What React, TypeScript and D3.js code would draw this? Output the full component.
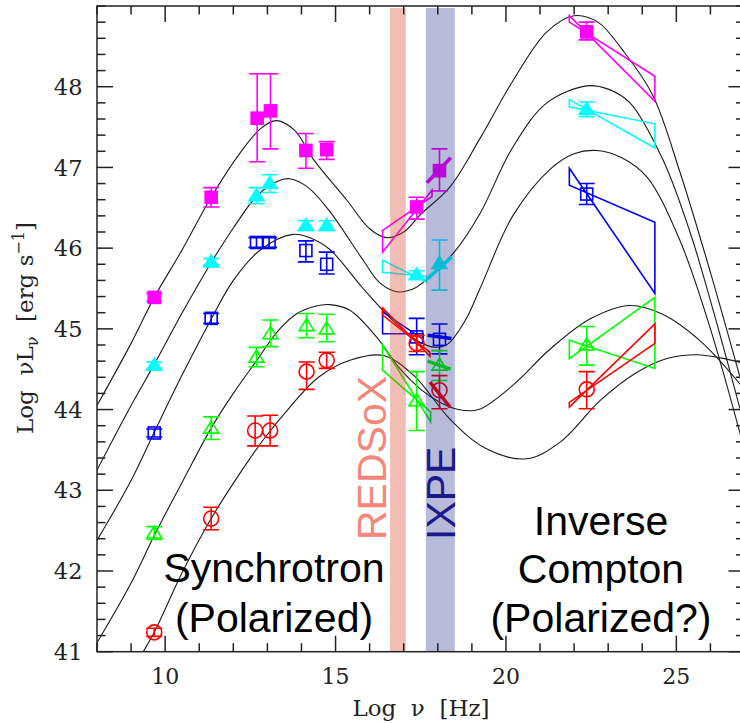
import * as d3 from "d3";
import { useEffect, useRef } from "react";

const xDomain = [8, 27];
const yDomain = [41, 49];
const xMajorTicks = [10, 15, 20, 25];
const yMajorTicks = [41, 42, 43, 44, 45, 46, 47, 48];

const seriesNames = ["magenta", "cyan", "blue", "green", "red"];
const seriesColors = ["#ff00ff", "#00ffff", "#0000ff", "#00ff00", "#ff0000"];
const seriesSymbols = ["squareFilled", "triangleFilled", "square", "triangle", "circle"];

// [log nu, log nuLnu, lower error, upper error]
const magentaPoints = [
  [9.68, 45.39, 0.05, 0.05],
  [11.35, 46.63, 0.12, 0.12],
  [12.7, 47.61, 0.54, 0.55],
  [13.09, 47.7, 0.47, 0.46],
  [14.13, 47.21, 0.22, 0.21],
  [14.74, 47.22, 0.12, 0.1],
  [17.38, 46.51, 0.15, 0.12],
  [18.05, 46.96, 0.25, 0.27],
  [22.37, 48.68, 0.1, 0.12],
];
const cyanPoints = [
  [9.68, 44.55, 0.04, 0.04],
  [11.35, 45.83, 0.04, 0.04],
  [12.68, 46.65, 0.1, 0.1],
  [13.07, 46.8, 0.11, 0.11],
  [14.13, 46.28, 0.06, 0.06],
  [14.74, 46.28, 0.06, 0.06],
  [17.38, 45.67, 0.05, 0.05],
  [18.05, 45.81, 0.33, 0.29],
  [22.37, 47.72, 0.09, 0.09],
];
const bluePoints = [
  [9.68, 43.71, 0.05, 0.05],
  [11.35, 45.13, 0.06, 0.06],
  [12.68, 46.07, 0.06, 0.06],
  [13.05, 46.07, 0.06, 0.06],
  [14.13, 45.97, 0.14, 0.12],
  [14.74, 45.8, 0.12, 0.15],
  [17.38, 44.9, 0.22, 0.23],
  [18.05, 44.87, 0.18, 0.19],
  [22.37, 46.67, 0.13, 0.13],
];
const greenPoints = [
  [9.68, 42.47, 0.08, 0.08],
  [11.35, 43.77, 0.14, 0.14],
  [12.68, 44.65, 0.12, 0.12],
  [13.09, 44.94, 0.16, 0.17],
  [14.15, 45.04, 0.15, 0.15],
  [14.74, 45.0, 0.16, 0.18],
  [17.38, 44.11, 0.37, 0.36],
  [18.05, 44.55, 0.19, 0.18],
  [22.37, 44.8, 0.25, 0.23],
];
const redPoints = [
  [9.68, 41.24, 0.05, 0.05],
  [11.35, 42.65, 0.14, 0.14],
  [12.64, 43.74, 0.19, 0.18],
  [13.08, 43.74, 0.19, 0.19],
  [14.15, 44.47, 0.22, 0.12],
  [14.74, 44.61, 0.1, 0.1],
  [17.38, 44.82, 0.1, 0.1],
  [18.05, 44.24, 0.23, 0.18],
  [22.37, 44.25, 0.24, 0.22],
];
const seriesPoints = [magentaPoints, cyanPoints, bluePoints, greenPoints, redPoints];

// bow ties: [x1, x2, left top, left bottom, right top, right bottom]
const xrayBowties = [
  [16.38, 17.83, 46.22, 45.95, 46.72, 46.64],
  [16.38, 17.67, 45.85, 45.7, 45.65, 45.58],
  [16.38, 17.57, 45.21, 44.94, 44.94, 44.87],
  [16.38, 17.79, 44.8, 44.49, 43.97, 43.85],
  [16.38, 17.77, 45.26, 45.17, 44.71, 44.66],
];
const gammaBowties = [
  [21.86, 24.37, 48.88, 48.8, 48.13, 47.82],
  [21.86, 24.37, 47.84, 47.75, 47.54, 47.24],
  [21.86, 24.37, 46.99, 46.78, 46.32, 45.44],
  [21.86, 24.37, 44.86, 44.63, 45.39, 44.51],
  [21.86, 24.37, 44.09, 44.03, 45.06, 44.82],
];
// short IXPE-band spectra: [x1, y1, x2, y2]
const ixpeSlopes = [
  [17.68, 46.81, 18.38, 47.12],
  [17.67, 45.61, 18.41, 45.89],
  [17.7, 44.92, 18.4, 44.88],
  [17.7, 44.6, 18.38, 44.5],
  [17.77, 44.34, 18.36, 44.03],
];

// SED model curves
const curveMagenta = [
  [8.0, 44.05], [9.0, 44.82], [9.68, 45.39], [10.5, 45.98], [11.35, 46.63], [12.2, 47.18],
  [12.8, 47.48], [13.25, 47.58], [13.8, 47.46], [14.35, 47.1], [15.34, 46.59], [16.0, 46.24],
  [16.5, 46.13], [17.0, 46.2], [17.5, 46.42], [18.36, 46.76], [19.24, 47.36], [20.2, 48.07],
  [21.2, 48.68], [22.0, 48.88], [22.7, 48.8], [23.43, 48.45], [24.3, 47.9], [25.1, 46.95],
  [26.0, 45.7], [27.0, 44.2],
];
const curveCyan = [
  [8.0, 43.25], [9.0, 44.05], [9.68, 44.56], [10.5, 45.2], [11.35, 45.82], [12.0, 46.25],
  [12.7, 46.65], [13.3, 46.83], [13.66, 46.86], [14.2, 46.75], [14.84, 46.45], [15.81, 45.85],
  [16.3, 45.57], [16.8, 45.46], [17.3, 45.5], [17.77, 45.65], [18.5, 45.96], [19.24, 46.43],
  [20.2, 47.25], [21.2, 47.8], [22.38, 48.01], [23.0, 47.97], [23.64, 47.8], [24.6, 47.1],
  [25.4, 46.2], [26.1, 45.2], [27.0, 43.8],
];
const curveBlue = [
  [8.0, 42.38], [9.0, 43.12], [9.68, 43.72], [10.5, 44.43], [11.35, 45.12], [12.0, 45.6],
  [12.8, 45.98], [13.75, 46.17], [14.3, 46.12], [14.84, 45.98], [15.81, 45.5], [16.69, 45.1],
  [17.3, 44.88], [17.8, 44.78], [18.25, 44.8], [18.8, 45.1], [19.24, 45.5], [20.2, 46.4],
  [21.3, 46.98], [22.0, 47.17], [22.67, 47.21], [23.4, 47.12], [24.14, 46.88], [25.1, 46.1],
  [26.0, 45.0], [27.0, 43.5],
];
const curveGreen = [
  [8.0, 41.11], [9.0, 41.85], [9.68, 42.44], [10.5, 43.1], [11.35, 43.77], [12.0, 44.2],
  [12.69, 44.61], [13.3, 44.97], [13.87, 45.19], [14.4, 45.28], [14.84, 45.3], [15.42, 45.23],
  [16.2, 44.9], [16.9, 44.5], [17.5, 44.25], [18.06, 44.09], [18.6, 44.0], [19.2, 44.0],
  [20.2, 44.3], [21.3, 44.75], [22.5, 45.13], [23.64, 45.29], [24.6, 45.18], [25.7, 44.85],
  [27.0, 44.25],
];
const curveRed = [
  [9.3, 40.96], [9.68, 41.24], [10.5, 41.98], [11.35, 42.65], [12.1, 43.15], [12.87, 43.62],
  [13.7, 44.05], [14.5, 44.4], [15.42, 44.61], [16.4, 44.67], [17.3, 44.42], [18.36, 43.88],
  [19.4, 43.52], [20.6, 43.39], [21.6, 43.6], [22.76, 44.11], [23.8, 44.45], [24.7, 44.63],
  [25.6, 44.68], [26.3, 44.64], [27.0, 44.57],
];
const sedCurves = [curveMagenta, curveCyan, curveBlue, curveGreen, curveRed];

const redsoxBand = [16.6, 17.06];
const ixpeBand = [17.65, 18.5];

const tickFont = "'DejaVu Serif', serif";
const labelFont = "'Liberation Sans', Arial, sans-serif";

export default function App() {
  const svgRef = useRef<SVGSVGElement>(null);

  useEffect(() => {
    if (!svgRef.current) return;
    drawChart(svgRef.current);
  }, []);

  return (
    <svg
      ref={svgRef}
      width={740}
      height={724}
      style={{ position: "absolute", left: 0, top: 0, background: "#ffffff" }}
    />
  );
}

function drawChart(svgElement: SVGSVGElement) {
  const svg = d3.select(svgElement);
  svg.selectAll("*").remove();

  const x = d3.scaleLinear().domain(xDomain).range([97, 744.5]);
  const y = d3.scaleLinear().domain(yDomain).range([651.7, 6]);
  const [left, right] = x.range();
  const [bottom, top] = y.range();

  svg
    .append("clipPath")
    .attr("id", "sed-clip")
    .append("rect")
    .attr("x", left)
    .attr("y", top)
    .attr("width", right - left)
    .attr("height", bottom - top);

  const plot = svg.append("g").attr("clip-path", "url(#sed-clip)");

  // model curves
  const line = d3
    .line<number[]>()
    .x((d) => x(d[0]))
    .y((d) => y(d[1]))
    .curve(d3.curveCatmullRom.alpha(0.5));

  plot
    .selectAll(".sed-curve")
    .data(sedCurves)
    .join("path")
    .attr("class", "sed-curve")
    .attr("d", (d) => line(d))
    .attr("fill", "none")
    .attr("stroke", "#1a1a1a")
    .attr("stroke-width", 1.1);

  // bow ties
  const bowtiePath = (b: number[]) => {
    const [x1, x2, a1, b1, a2, b2] = b;
    return `M${x(x1)},${y(a1)}L${x(x2)},${y(b2)}L${x(x2)},${y(a2)}L${x(x1)},${y(b1)}Z`;
  };

  seriesNames.forEach((name, i) => {
    const color = seriesColors[i];
    const g = plot.append("g").attr("class", `series-${name}`);

    [xrayBowties[i], gammaBowties[i]].forEach((b) => {
      g.append("path")
        .attr("d", bowtiePath(b))
        .attr("fill", "none")
        .attr("stroke", color)
        .attr("stroke-width", 1.6)
        .attr("stroke-linejoin", "miter");
    });

    const s = ixpeSlopes[i];
    g.append("line")
      .attr("x1", x(s[0]))
      .attr("y1", y(s[1]))
      .attr("x2", x(s[2]))
      .attr("y2", y(s[3]))
      .attr("stroke", color)
      .attr("stroke-width", 3.5);

    const pts = g
      .selectAll(".pt")
      .data(seriesPoints[i])
      .join("g")
      .attr("class", "pt")
      .attr("transform", (d) => `translate(${x(d[0])},${y(d[1])})`);

    // error bars
    pts
      .append("path")
      .attr("d", (d) => {
        const y0 = y(d[1] - d[2]) - y(d[1]);
        const y1 = y(d[1] + d[3]) - y(d[1]);
        return `M0,${y0}L0,${y1}M-8,${y0}L8,${y0}M-8,${y1}L8,${y1}`;
      })
      .attr("fill", "none")
      .attr("stroke", color)
      .attr("stroke-width", 1.6);

    const symbol = seriesSymbols[i];
    const filled = symbol.endsWith("Filled");
    let shape;
    if (symbol.startsWith("square")) {
      shape = pts.append("rect").attr("x", -6).attr("y", -6).attr("width", 12).attr("height", 12);
    } else if (symbol.startsWith("triangle")) {
      shape = pts.append("path").attr("d", "M0,-7L7.5,5L-7.5,5Z");
    } else {
      shape = pts.append("circle").attr("r", 7.5);
    }
    shape
      .attr("fill", filled ? color : "none")
      .attr("stroke", color)
      .attr("stroke-width", 1.6);
  });

  // instrument bands drawn over the data
  plot
    .append("rect")
    .attr("x", x(redsoxBand[0]))
    .attr("y", top + 2)
    .attr("width", x(redsoxBand[1]) - x(redsoxBand[0]))
    .attr("height", bottom - top - 2)
    .attr("fill", "#d9412b")
    .attr("opacity", 0.35);

  plot
    .append("rect")
    .attr("x", x(ixpeBand[0]))
    .attr("y", top + 2)
    .attr("width", x(ixpeBand[1]) - x(ixpeBand[0]))
    .attr("height", bottom - top - 2)
    .attr("fill", "#101a80")
    .attr("opacity", 0.3);

  // frame and ticks
  const axisColor = "#222222";
  const frame = svg.append("g").attr("stroke", axisColor).attr("stroke-width", 1.5);
  frame
    .append("rect")
    .attr("x", left)
    .attr("y", top)
    .attr("width", right - left)
    .attr("height", bottom - top)
    .attr("fill", "none");

  const xMinor = d3.range(xDomain[0], xDomain[1] + 0.001, 1);
  const yMinor = d3.range(yDomain[0], yDomain[1] + 0.001, 0.2);
  const isMajorX = (v: number) => xMajorTicks.some((t) => Math.abs(t - v) < 1e-6);
  const isMajorY = (v: number) => yMajorTicks.some((t) => Math.abs(t - v) < 1e-6);

  xMinor.forEach((v) => {
    const len = isMajorX(v) ? 16 : 8.5;
    frame.append("line").attr("x1", x(v)).attr("x2", x(v)).attr("y1", bottom).attr("y2", bottom - len);
    frame.append("line").attr("x1", x(v)).attr("x2", x(v)).attr("y1", top).attr("y2", top + len);
  });
  yMinor.forEach((v) => {
    const len = isMajorY(v) ? 16 : 8.5;
    frame.append("line").attr("x1", left).attr("x2", left + len).attr("y1", y(v)).attr("y2", y(v));
    frame.append("line").attr("x1", right).attr("x2", right - len).attr("y1", y(v)).attr("y2", y(v));
  });

  // tick labels
  svg
    .append("g")
    .selectAll("text")
    .data(xMajorTicks)
    .join("text")
    .attr("x", (d) => x(d))
    .attr("y", 684)
    .attr("text-anchor", "middle")
    .attr("fill", "#222")
    .style("font-family", tickFont)
    .style("font-size", "22px")
    .text((d) => d);

  svg
    .append("g")
    .selectAll("text")
    .data(yMajorTicks)
    .join("text")
    .attr("x", 82.5)
    .attr("y", (d) => y(d))
    .attr("dy", "0.36em")
    .attr("text-anchor", "end")
    .attr("fill", "#222")
    .style("font-family", tickFont)
    .style("font-size", "22.5px")
    .text((d) => d);

  // axis titles
  svg
    .append("text")
    .attr("x", 421)
    .attr("y", 716)
    .attr("text-anchor", "middle")
    .attr("fill", "#222")
    .style("font-family", tickFont)
    .style("font-size", "23px")
    .style("white-space", "pre")
    .text("Log  \u03bd  [Hz]");

  const yTitle = svg
    .append("text")
    .attr("transform", "translate(33, 328) rotate(-90)")
    .attr("text-anchor", "middle")
    .attr("fill", "#222")
    .style("font-family", tickFont)
    .style("font-size", "23px")
    .style("white-space", "pre");
  yTitle.append("tspan").text("Log  \u03bdL");
  yTitle.append("tspan").attr("dy", 5).style("font-size", "16px").text("\u03bd");
  yTitle.append("tspan").attr("dy", -5).text("  [erg s");
  yTitle.append("tspan").attr("dy", -9).style("font-size", "16px").text("\u22121");
  yTitle.append("tspan").attr("dy", 9).text("]");

  // band labels
  svg
    .append("text")
    .attr("transform", "translate(386, 540) rotate(-90)")
    .attr("fill", "#f4877a")
    .style("font-family", labelFont)
    .style("font-size", "41px")
    .text("REDSoX");

  svg
    .append("text")
    .attr("transform", "translate(455, 540) rotate(-90)")
    .attr("fill", "#1a1a8c")
    .style("font-family", labelFont)
    .style("font-size", "41px")
    .text("IXPE");

  // emission labels
  const annotations = [
    { text: "Synchrotron", x: 274, y: 582 },
    { text: "(Polarized)", x: 274, y: 632 },
    { text: "Inverse", x: 601, y: 535 },
    { text: "Compton", x: 601, y: 583 },
    { text: "(Polarized?)", x: 601, y: 632 },
  ];
  svg
    .append("g")
    .selectAll("text")
    .data(annotations)
    .join("text")
    .attr("x", (d) => d.x)
    .attr("y", (d) => d.y)
    .attr("text-anchor", "middle")
    .attr("fill", "#000")
    .style("font-family", labelFont)
    .style("font-size", "41px")
    .text((d) => d.text);
}
